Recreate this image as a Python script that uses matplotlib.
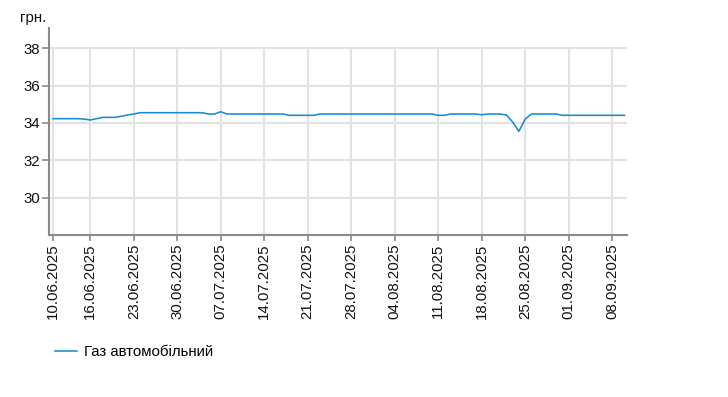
import matplotlib
matplotlib.use("Agg")
import matplotlib.pyplot as plt
import pandas as pd

plt.rcParams['font.family'] = ['Liberation Sans', 'DejaVu Sans']

start_date = "2025-06-10"
series_name = "Газ автомобільний"
unit_label = "грн."
values = [
    34.23, 34.23, 34.23, 34.23, 34.23, 34.21, 34.16, 34.23, 34.30, 34.30,
    34.30, 34.36, 34.43, 34.48, 34.55, 34.55, 34.55, 34.55, 34.55, 34.55,
    34.55, 34.55, 34.55, 34.55, 34.55, 34.48, 34.48, 34.60, 34.48, 34.48,
    34.48, 34.48, 34.48, 34.48, 34.48, 34.48, 34.48, 34.48, 34.41, 34.41,
    34.41, 34.41, 34.41, 34.48, 34.48, 34.48, 34.48, 34.48, 34.48, 34.48,
    34.48, 34.48, 34.48, 34.48, 34.48, 34.48, 34.48, 34.48, 34.48, 34.48,
    34.48, 34.48, 34.41, 34.41, 34.48, 34.48, 34.48, 34.48, 34.48, 34.44,
    34.48, 34.48, 34.48, 34.42, 34.05, 33.55, 34.20, 34.48, 34.48, 34.48,
    34.48, 34.48, 34.41, 34.41, 34.41, 34.41, 34.41, 34.41, 34.41, 34.41,
    34.41, 34.41, 34.41,
]
tick_labels = ["10.06.2025", "16.06.2025", "23.06.2025", "30.06.2025",
               "07.07.2025", "14.07.2025", "21.07.2025", "28.07.2025",
               "04.08.2025", "11.08.2025", "18.08.2025", "25.08.2025",
               "01.09.2025", "08.09.2025"]
y_ticks = [30, 32, 34, 36, 38]

dates = pd.date_range(start_date, periods=len(values), freq="D")
tick_dates = pd.to_datetime(tick_labels, format="%d.%m.%Y")

W, H = 728, 397
fig = plt.figure(figsize=(W / 100, H / 100), dpi=100)
ax_left, ax_right, ax_top, ax_bottom = 49.3, 627, 46.7, 235
ax = fig.add_axes([ax_left / W, 1 - ax_bottom / H,
                   (ax_right - ax_left) / W, (ax_bottom - ax_top) / H])

line_color = "#1a8ad4"
ax.plot(dates, values, color=line_color, linewidth=1.15, label=series_name,
        zorder=3)

x0 = dates[0] - pd.Timedelta(days=0.6)
x1 = dates[0] + pd.Timedelta(days=92.4)
ax.set_xlim(x0, x1)
ax.set_ylim(28.0, 38.085)

ax.set_xticks(tick_dates)
ax.set_xticklabels(tick_labels, rotation=90, va="top", ha="center")
ax.set_yticks(y_ticks)
ax.set_yticklabels([str(t) for t in y_ticks])

grid_color = "#e2e2e2"
ax.grid(True, color=grid_color, linewidth=1.5, zorder=0)
ax.set_axisbelow(True)

for s in ["top", "right"]:
    ax.spines[s].set_visible(False)
spine_color = "#8a8a8a"
for s in ["left", "bottom"]:
    ax.spines[s].set_color(spine_color)
    ax.spines[s].set_linewidth(1.5)
ax.spines["left"].set_bounds(28.0, 39.07)

fs = 10.8
ax.tick_params(axis="both", colors=spine_color, labelcolor="#111111",
               labelsize=fs, width=1.2)
ax.tick_params(axis="y", length=5, pad=1.5)
ax.tick_params(axis="x", length=4, pad=2)

fig.text(20 / W, 1 - 18 / H, unit_label, fontsize=fs, color="#111111",
         ha="left", va="center")

fig.legend(loc="center left", bbox_to_anchor=(55 / W, 1 - 352 / H),
           frameon=False, borderpad=0, borderaxespad=0, handlelength=1.45,
           handletextpad=0.5, fontsize=fs)

fig.savefig("out.png", dpi=100)
